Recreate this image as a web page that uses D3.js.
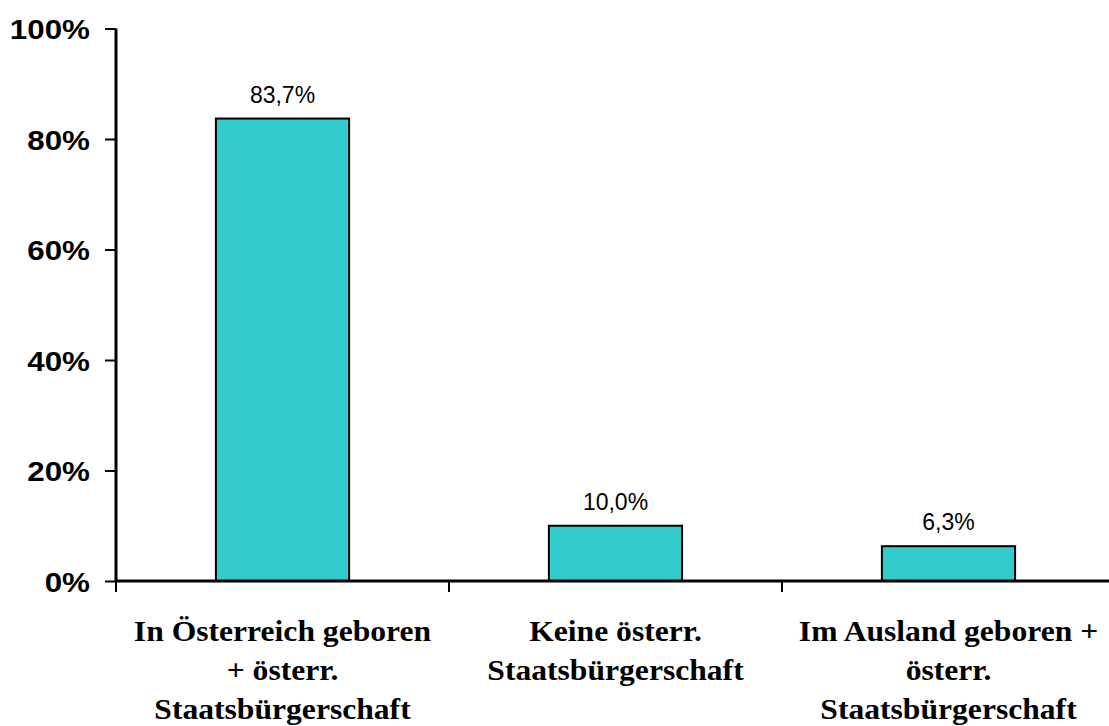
<!DOCTYPE html>
<html>
<head>
<meta charset="utf-8">
<script src="https://cdn.jsdelivr.net/npm/d3@7"></script>
<style>
  body { margin: 0; background: #fff; }
  svg { display: block; }
</style>
</head>
<body>
<svg id="chart" width="1109" height="726"></svg>
<script>
// chart data
const categories = [
    ["In Österreich geboren", "+ österr.", "Staatsbürgerschaft"],
    ["Keine österr.", "Staatsbürgerschaft"],
    ["Im Ausland geboren +", "österr.", "Staatsbürgerschaft"]
];
const values = [83.7, 10.0, 6.3];
const valueLabels = ["83,7%", "10,0%", "6,3%"];
const yTicks = [0, 20, 40, 60, 80, 100];

const svg = d3.select("#chart");

const plotLeft = 116, plotRight = 1115, plotTop = 28.5, plotBottom = 581;

const x = d3.scaleBand()
    .domain(d3.range(values.length))
    .range([plotLeft, plotRight])
    .paddingInner(0.6)
    .paddingOuter(0.3);

const y = d3.scaleLinear()
    .domain([0, 100])
    .range([plotBottom, plotTop]);

// y axis
const yAxis = svg.append("g")
    .attr("transform", `translate(${plotLeft},0)`)
    .call(d3.axisLeft(y).tickValues(yTicks).tickSize(11).tickPadding(15).tickFormat(d => d + "%"));
yAxis.select(".domain").attr("stroke", "#000").attr("stroke-width", 3)
    .attr("d", `M0,${plotBottom}V${plotTop}`);
yAxis.selectAll(".tick line").attr("stroke", "#000").attr("stroke-width", 2);
// the original labels look a bit stretched sideways
yAxis.selectAll(".tick text")
    .attr("fill", "#000")
    .attr("x", 0)
    .attr("dy", "0.36em")
    .attr("transform", "translate(-26,0) scale(1.12,1)")
    .style("font-family", "Arial, 'Liberation Sans', sans-serif")
    .style("font-weight", "bold")
    .style("font-size", "28px");

// bars
svg.selectAll(".bar")
    .data(values)
    .enter()
    .append("rect")
    .attr("class", "bar")
    .attr("x", (d, i) => x(i))
    .attr("y", d => y(d))
    .attr("width", x.bandwidth())
    .attr("height", d => y(0) - y(d))
    .attr("fill", "#33CCCC")
    .attr("stroke", "#000")
    .attr("stroke-width", 2);

// value labels
svg.selectAll(".val")
    .data(values)
    .enter()
    .append("text")
    .attr("x", (d, i) => x(i) + x.bandwidth() / 2)
    .attr("y", d => y(d) - 16)
    .attr("text-anchor", "middle")
    .style("font-family", "Arial, 'Liberation Sans', sans-serif")
    .style("font-size", "23px")
    .attr("fill", "#000")
    .text((d, i) => valueLabels[i]);

// x axis line + category separator ticks
svg.append("line")
    .attr("x1", plotLeft).attr("x2", plotRight)
    .attr("y1", plotBottom).attr("y2", plotBottom)
    .attr("stroke", "#000").attr("stroke-width", 3);

const step = x.step();
const sepTicks = d3.range(values.length + 1).map(i => plotLeft + i * step);
svg.selectAll(".sep")
    .data(sepTicks)
    .enter()
    .append("line")
    .attr("x1", d => d).attr("x2", d => d)
    .attr("y1", plotBottom).attr("y2", plotBottom + 11)
    .attr("stroke", "#000").attr("stroke-width", 2);

// category labels
categories.forEach((lines, i) => {
    const t = svg.append("text")
        .attr("text-anchor", "middle")
        .attr("transform", `translate(${plotLeft + (i + 0.5) * step},0) scale(1.09,1)`)
        .style("font-family", "'Times New Roman', 'Liberation Serif', serif")
        .style("font-weight", "bold")
        .style("font-size", "29px")
        .attr("fill", "#000");
    lines.forEach((ln, j) => {
        t.append("tspan")
            .attr("x", 0)
            .attr("y", 641 + j * 39)
            .text(ln);
    });
});
</script>
</body>
</html>
